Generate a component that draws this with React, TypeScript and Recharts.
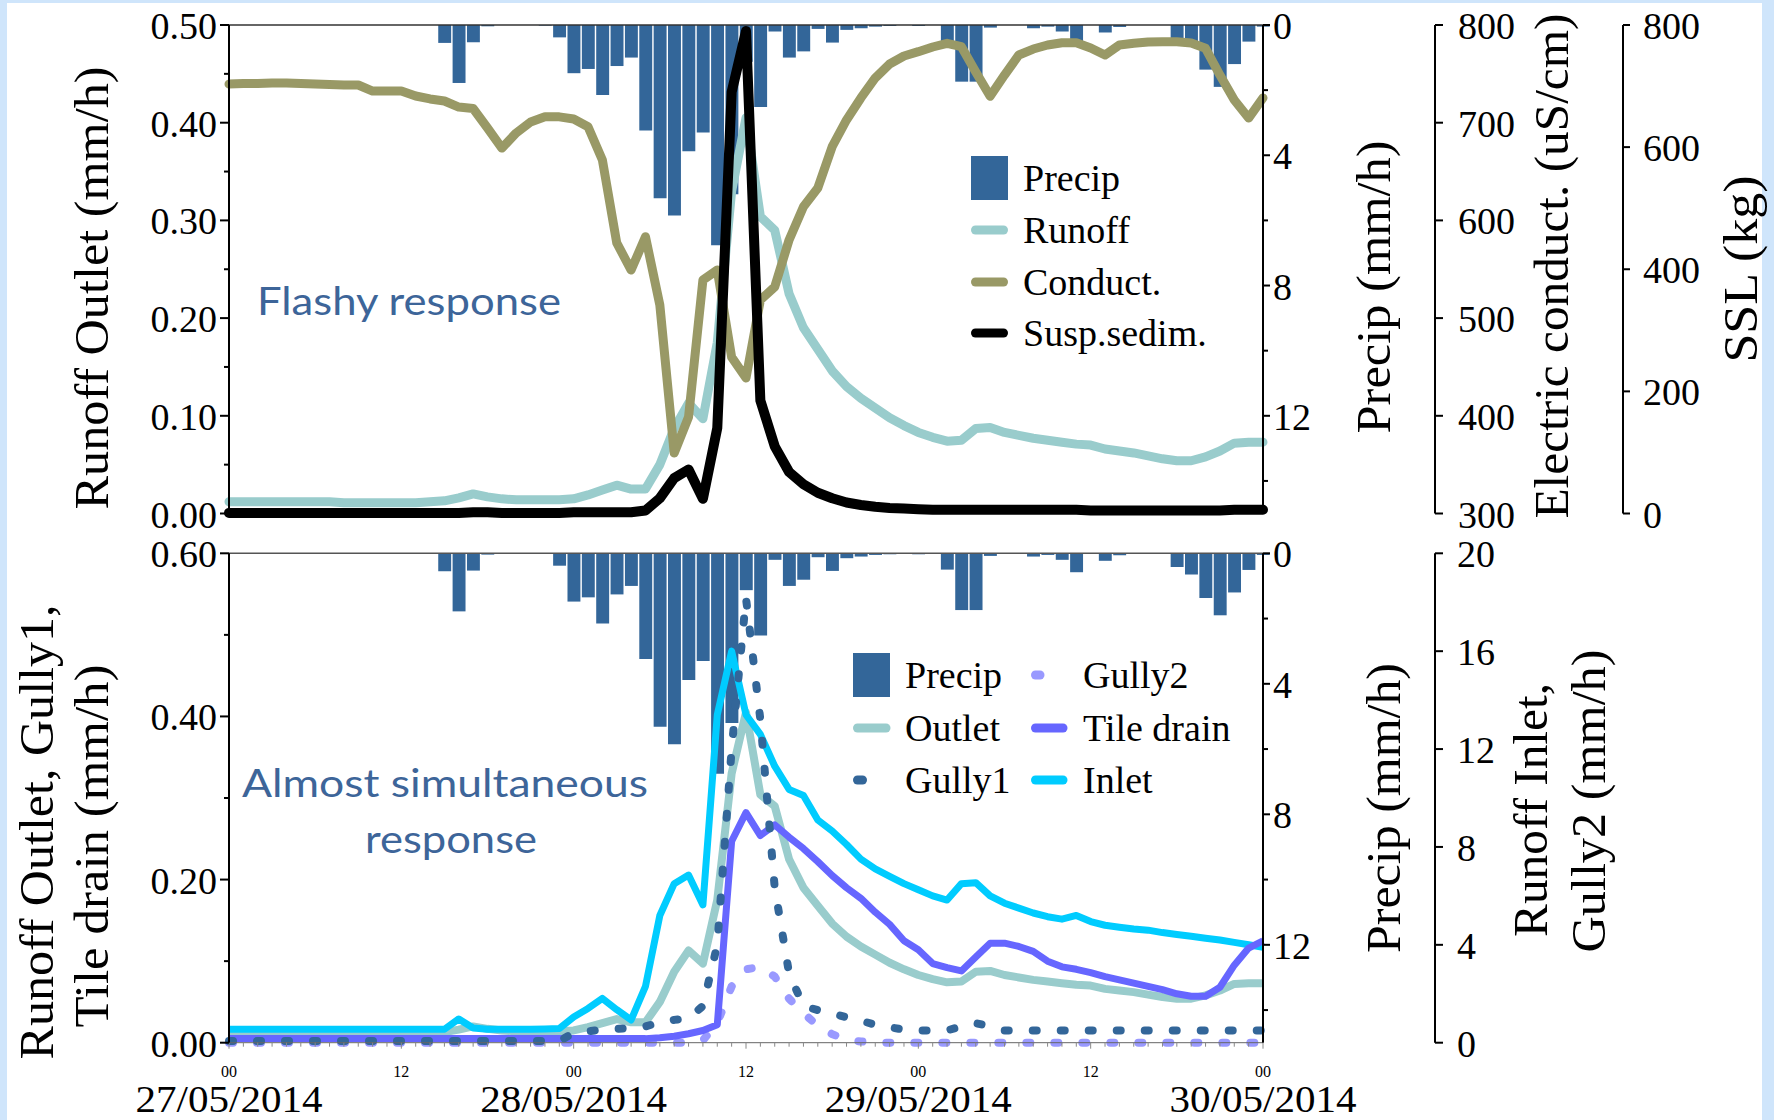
import React from 'react';
import { ComposedChart, Bar, Line, XAxis, YAxis, ReferenceLine, Legend } from 'recharts';

// ---------- data (hourly, 27/05/2014 00:00 -> 30/05/2014 00:00) ----------
const hours = [0,1,2,3,4,5,6,7,8,9,10,11,12,13,14,15,16,17,18,19,20,21,22,23,24,25,26,27,28,29,30,31,32,33,34,35,36,37,38,39,40,41,42,43,44,45,46,47,48,49,50,51,52,53,54,55,56,57,58,59,60,61,62,63,64,65,66,67,68,69,70,71,72];

const precip = [0,0,0,0,0,0,0,0,0,0,0,0,0,0,0,0.55,1.78,0.53,0.04,0,0,0,0.02,0.38,1.48,1.35,2.15,1.26,1.0,3.24,5.32,5.85,3.88,3.3,6.76,5.2,1.13,2.52,0.2,1.0,0.81,0.12,0.54,0.15,0.1,0.05,0.03,0,0.03,0,0.5,1.74,1.74,0.08,0,0,0.1,0.05,0.2,0.58,0,0.23,0.06,0,0,0,0.42,0.65,1.37,1.9,1.2,0.51,0.05];

const runoff = [0.012,0.012,0.012,0.012,0.012,0.012,0.012,0.012,0.011,0.011,0.011,0.011,0.011,0.011,0.012,0.013,0.016,0.02,0.017,0.015,0.014,0.014,0.014,0.014,0.015,0.019,0.024,0.029,0.025,0.025,0.05,0.087,0.113,0.097,0.175,0.33,0.405,0.304,0.29,0.225,0.19,0.168,0.146,0.13,0.118,0.108,0.098,0.09,0.083,0.078,0.074,0.075,0.087,0.088,0.083,0.08,0.077,0.075,0.073,0.071,0.07,0.066,0.064,0.062,0.059,0.056,0.054,0.054,0.058,0.064,0.072,0.073,0.073];

const conduct = [739.6,740,740,740.6,740.6,740,739.6,739,738.6,738.6,732.4,732.4,732.4,727.3,724.3,722.2,716,714.5,694.6,674,689.5,700.7,706,706,703.8,695.9,661.8,576.9,549.2,583.3,513.4,361.9,398.8,539,549.2,460,438.7,518.5,532,580,614,633.2,675.4,702.8,725.3,745.8,760.1,768.3,772.7,777.5,781.3,777.8,751.9,727,748.8,769.3,775.4,779.5,781.9,781.9,776.5,769.3,779.5,781.3,782.6,782.9,782.9,781.6,776.2,748.8,723.2,704.8,725.3];

const ssl = [1,1,1,1,1,1,1,1,1,1,1,1,1,1,1,1,1,2,2,1,1,1,1,1,2,2,2,2,2,5,25,58,72,24,140,690,790,185,110,68,48,34,25,18,14,11,9,8,7,6,6,6,6,6,6,6,6,6,6,6,5,5,5,5,5,5,5,5,5,5,6,6,6];

const inlet = [0.55,0.55,0.55,0.55,0.55,0.55,0.55,0.55,0.55,0.55,0.55,0.55,0.55,0.55,0.55,0.55,0.97,0.6,0.55,0.55,0.55,0.55,0.56,0.58,1.05,1.4,1.81,1.35,0.93,2.3,5.2,6.5,6.85,5.63,13.4,16.0,13.4,12.6,11.3,10.35,10.1,9.1,8.65,8.1,7.5,7.1,6.8,6.5,6.25,6.0,5.83,6.5,6.54,6.0,5.7,5.5,5.3,5.15,5.05,5.2,4.95,4.8,4.72,4.65,4.6,4.5,4.42,4.35,4.27,4.2,4.1,4.0,3.9];

const tile = [0.005,0.005,0.005,0.005,0.005,0.005,0.005,0.005,0.005,0.005,0.005,0.005,0.005,0.005,0.005,0.005,0.005,0.005,0.005,0.005,0.005,0.005,0.005,0.005,0.005,0.005,0.005,0.005,0.005,0.005,0.006,0.008,0.011,0.015,0.022,0.247,0.282,0.254,0.267,0.252,0.238,0.222,0.205,0.19,0.177,0.16,0.145,0.125,0.114,0.097,0.092,0.088,0.105,0.122,0.122,0.118,0.112,0.1,0.093,0.09,0.086,0.081,0.077,0.073,0.069,0.065,0.06,0.057,0.057,0.068,0.095,0.116,0.125];

const gully1 = [0.002,0.002,0.002,0.002,0.002,0.002,0.002,0.002,0.002,0.002,0.002,0.002,0.002,0.002,0.002,0.002,0.002,0.002,0.002,0.002,0.002,0.002,0.002,0.002,0.012,0.014,0.016,0.017,0.018,0.02,0.025,0.028,0.03,0.045,0.12,0.36,0.545,0.396,0.19,0.085,0.045,0.04,0.036,0.031,0.027,0.022,0.019,0.016,0.015,0.015,0.015,0.02,0.024,0.02,0.015,0.015,0.015,0.015,0.015,0.015,0.015,0.015,0.015,0.015,0.015,0.015,0.015,0.015,0.015,0.015,0.015,0.015,0.015];

const gully2 = [0,0,0,0,0,0,0,0,0,0,0,0,0,0,0,0,0,0,0,0,0,0,0,0,0,0,0,0,0,0,0,0,0,0.1,0.8,2.3,3.0,3.1,2.7,1.8,1.2,0.7,0.35,0.12,0.05,0,0,0,0,0,0,0,0,0,0,0,0,0,0,0,0,0,0,0,0,0,0,0,0,0,0,0,0];

const hourLabels = ['00', '12'];
const dateLabels = ['27/05/2014', '28/05/2014', '29/05/2014', '30/05/2014'];

const leftTicksTop = [0, 0.05, 0.1, 0.15, 0.2, 0.25, 0.3, 0.35, 0.4, 0.45, 0.5];
const leftMajorsTop = [0, 0.1, 0.2, 0.3, 0.4, 0.5];
const leftTicksBot = [0, 0.1, 0.2, 0.3, 0.4, 0.5, 0.6];
const leftMajorsBot = [0, 0.2, 0.4, 0.6];
const precipTicks = [0, 2, 4, 6, 8, 10, 12, 14];
const precipMajors = [0, 4, 8, 12];
const condTicks = [300, 400, 500, 600, 700, 800];
const sslTicks = [0, 200, 400, 600, 800];
const inletTicks = [0, 4, 8, 12, 16, 20];

const topData = hours.map((h, i) => ({ h, precip: precip[i], runoff: runoff[i], conduct: conduct[i], ssl: ssl[i] }));
const botData = hours.map((h, i) => ({ h, precip: precip[i], outlet: runoff[i], inlet: inlet[i], tile: tile[i], gully1: gully1[i], gully2: gully2[i] }));

// ---------- styles ----------
const FONT = '"Liberation Serif", "Times New Roman", serif';
const SANS = 'Lato, "Open Sans", sans-serif';
const C = {
  precip: '#336699',
  runoff: '#99cccc',
  conduct: '#999966',
  ssl: '#000000',
  gully1: '#336699',
  gully2: '#9999ff',
  tile: '#6666ff',
  inlet: '#00ccff',
  note: '#3d6599',
};

const isIn = (arr: number[], v: number) => arr.some((m) => Math.abs(m - v) < 1e-9);

function LeftTick(props: any) {
  const { x, y, payload, majors, digits } = props;
  const v = payload.value;
  const major = isIn(majors, v);
  const len = major ? 9 : 5;
  return (
    <g>
      <line x1={x} x2={x - len} y1={y} y2={y} stroke="#000" strokeWidth={2} />
      {major && (
        <text x={x - 12} y={y + 14} textAnchor="end" fontSize={38} fontFamily={FONT} fill="#000">
          {v.toFixed(digits)}
        </text>
      )}
    </g>
  );
}

function RightTick(props: any) {
  const { x, y, payload, majors, gap, len } = props;
  const v = payload.value;
  const major = majors ? isIn(majors, v) : true;
  const l = major ? len : 5;
  return (
    <g>
      <line x1={x} x2={x + l} y1={y} y2={y} stroke="#000" strokeWidth={2} />
      {major && (
        <text x={x + gap} y={y + 14} textAnchor="start" fontSize={38} fontFamily={FONT} fill="#000">
          {String(v)}
        </text>
      )}
    </g>
  );
}

function XTick(props: any) {
  const { x, y, payload } = props;
  const v = payload.value;
  const lab = v % 12 === 0;
  return (
    <g>
      <line x1={x} x2={x} y1={y} y2={y + (lab ? 6 : 4)} stroke="#888" strokeWidth={1} />
      {lab && (
        <text x={x} y={y + 34} textAnchor="middle" fontSize={16} fontFamily={FONT} fill="#000">
          {hourLabels[(v / 12) % 2]}
        </text>
      )}
      {v % 24 === 0 && (
        <text x={x} y={y + 69} textAnchor="middle" fontSize={38} fontFamily={FONT} fill="#000"
          textLength={187} lengthAdjust="spacingAndGlyphs">
          {dateLabels[v / 24]}
        </text>
      )}
    </g>
  );
}

function VTitle(props: any) {
  const { lines } = props;
  return (
    <g>
      {lines.map((l: any, i: number) => (
        <text key={i} transform={`translate(${l.x},${l.y}) rotate(-90)`} textAnchor="middle"
          fontSize={49} fontFamily={FONT} fill="#000" textLength={l.len} lengthAdjust="spacingAndGlyphs">
          {l.text}
        </text>
      ))}
    </g>
  );
}

const txt = (x: number, y: number, s: string) => (
  <text x={x} y={y} fontSize={38} fontFamily={FONT} fill="#000">{s}</text>
);

function TopLegend() {
  const ox = 960, oy = 140;
  return (
    <svg width={320} height={230} style={{ overflow: 'visible' }}>
      <rect x={971 - ox} y={156 - oy} width={37} height={44} fill={C.precip} />
      {txt(1023 - ox, 191 - oy, 'Precip')}
      <line x1={975.5 - ox} x2={1003.5 - ox} y1={230 - oy} y2={230 - oy} stroke={C.runoff} strokeWidth={9} strokeLinecap="round" />
      {txt(1023 - ox, 243 - oy, 'Runoff')}
      <line x1={975.5 - ox} x2={1003.5 - ox} y1={282 - oy} y2={282 - oy} stroke={C.conduct} strokeWidth={9} strokeLinecap="round" />
      {txt(1023 - ox, 295 - oy, 'Conduct.')}
      <line x1={975.5 - ox} x2={1003.5 - ox} y1={333 - oy} y2={333 - oy} stroke={C.ssl} strokeWidth={9} strokeLinecap="round" />
      {txt(1023 - ox, 346 - oy, 'Susp.sedim.')}
    </svg>
  );
}

function BottomLegend() {
  const ox = 845, oy = 640;
  return (
    <svg width={420} height={180} style={{ overflow: 'visible' }}>
      <rect x={853 - ox} y={653 - oy} width={37} height={44} fill={C.precip} />
      {txt(905 - ox, 688 - oy, 'Precip')}
      <line x1={857.5 - ox} x2={886 - ox} y1={728 - oy} y2={728 - oy} stroke={C.runoff} strokeWidth={9} strokeLinecap="round" />
      {txt(905 - ox, 741 - oy, 'Outlet')}
      <line x1={857.5 - ox} x2={862.5 - ox} y1={780 - oy} y2={780 - oy} stroke={C.gully1} strokeWidth={9} strokeLinecap="round" />
      {txt(905 - ox, 793 - oy, 'Gully1')}
      <line x1={1035.5 - ox} x2={1040 - ox} y1={675 - oy} y2={675 - oy} stroke={C.gully2} strokeWidth={9} strokeLinecap="round" />
      {txt(1083 - ox, 688 - oy, 'Gully2')}
      <line x1={1035.5 - ox} x2={1063 - ox} y1={728 - oy} y2={728 - oy} stroke={C.tile} strokeWidth={9} strokeLinecap="round" />
      {txt(1083 - ox, 741 - oy, 'Tile drain')}
      <line x1={1035.5 - ox} x2={1063 - ox} y1={780 - oy} y2={780 - oy} stroke={C.inlet} strokeWidth={9} strokeLinecap="round" />
      {txt(1083 - ox, 793 - oy, 'Inlet')}
    </svg>
  );
}

const BOT = 520;

export default function App() {
  return (
    <div style={{ position: 'absolute', left: 0, top: 0, width: 1774, height: 1120, background: '#cfe5fb', overflow: 'hidden' }}>
      <div style={{ position: 'absolute', left: 7, top: 3, width: 1755, height: 1117, background: '#ffffff' }} />

      {/* ---------- top panel ---------- */}
      <div style={{ position: 'absolute', left: 0, top: 0 }}>
        <ComposedChart width={1774} height={540} data={topData} margin={{ top: 25, right: 0, bottom: 26.5, left: 0 }}>
          <XAxis dataKey="h" type="number" domain={[0, 72]} ticks={[0, 12, 24, 36, 48, 60, 72]} height={0}
            tick={false} tickLine={false} axisLine={{ stroke: '#aaaaaa', strokeWidth: 1 }} />
          <YAxis yAxisId="l" orientation="left" width={229} domain={[0, 0.5]} ticks={leftTicksTop} interval={0}
            tickSize={0} tickMargin={0} tickLine={false} axisLine={{ stroke: '#000', strokeWidth: 2 }}
            tick={<LeftTick majors={leftMajorsTop} digits={2} />}
            label={<VTitle lines={[{ x: 108, y: 288, len: 443, text: 'Runoff Outlet (mm/h)' }]} />} />
          <YAxis yAxisId="r1" orientation="right" width={172} reversed domain={[0, 15]} ticks={precipTicks} interval={0}
            tickSize={0} tickMargin={0} tickLine={false} axisLine={{ stroke: '#000', strokeWidth: 2 }}
            tick={<RightTick majors={precipMajors} gap={10} len={7} />}
            label={<VTitle lines={[{ x: 1390, y: 287, len: 293, text: 'Precip (mm/h)' }]} />} />
          <YAxis yAxisId="r2" orientation="right" width={188} domain={[300, 800]} ticks={condTicks} interval={0}
            tickSize={0} tickMargin={0} tickLine={false} axisLine={{ stroke: '#000', strokeWidth: 2 }}
            tick={<RightTick gap={23} len={8} />}
            label={<VTitle lines={[{ x: 1568, y: 266, len: 505, text: 'Electric conduct. (uS/cm)' }]} />} />
          <YAxis yAxisId="r3" orientation="right" width={151} domain={[0, 800]} ticks={sslTicks} interval={0}
            tickSize={0} tickMargin={0} tickLine={false} axisLine={{ stroke: '#000', strokeWidth: 2 }}
            tick={<RightTick gap={20} len={7} />}
            label={<VTitle lines={[{ x: 1757, y: 269, len: 187, text: 'SSL (kg)' }]} />} />
          <ReferenceLine yAxisId="l" y={0.5} stroke="#333" strokeWidth={1.5} />
          <Bar yAxisId="r1" dataKey="precip" name="Precip" fill={C.precip} barSize={14.4} isAnimationActive={false} />
          <Line yAxisId="l" dataKey="runoff" name="Runoff" type="linear" stroke={C.runoff} strokeWidth={9}
            strokeLinejoin="round" strokeLinecap="round" dot={false} activeDot={false} isAnimationActive={false} />
          <Line yAxisId="r2" dataKey="conduct" name="Conduct." type="linear" stroke={C.conduct} strokeWidth={9}
            strokeLinejoin="round" strokeLinecap="round" dot={false} activeDot={false} isAnimationActive={false} />
          <Line yAxisId="r3" dataKey="ssl" name="Susp.sedim." type="linear" stroke={C.ssl} strokeWidth={10}
            strokeLinejoin="round" strokeLinecap="round" dot={false} activeDot={false} isAnimationActive={false} />
          <Legend layout="horizontal" verticalAlign="middle" align="center" content={<TopLegend />}
            wrapperStyle={{ position: 'absolute', left: 960, top: 140, width: 320, height: 230 }} />
        </ComposedChart>
      </div>

      {/* ---------- bottom panel ---------- */}
      <div style={{ position: 'absolute', left: 0, top: BOT }}>
        <ComposedChart width={1774} height={600} data={botData} margin={{ top: 33.3, right: 0, bottom: 0, left: 0 }}>
          <XAxis dataKey="h" type="number" domain={[0, 72]} ticks={hours} interval={0} height={77.3}
            tickSize={0} tickMargin={0} tickLine={false} axisLine={{ stroke: '#666', strokeWidth: 1 }}
            tick={<XTick />} />
          <YAxis yAxisId="l" orientation="left" width={229} domain={[0, 0.6]} ticks={leftTicksBot} interval={0}
            tickSize={0} tickMargin={0} tickLine={false} axisLine={{ stroke: '#000', strokeWidth: 2 }}
            tick={<LeftTick majors={leftMajorsBot} digits={2} />}
            label={<VTitle lines={[
              { x: 53, y: 832 - BOT, len: 455, text: 'Runoff Outlet, Gully1,' },
              { x: 108, y: 846 - BOT, len: 363, text: 'Tile drain (mm/h)' },
            ]} />} />
          <YAxis yAxisId="r1" orientation="right" width={172} reversed domain={[0, 15]} ticks={precipTicks} interval={0}
            tickSize={0} tickMargin={0} tickLine={false} axisLine={{ stroke: '#000', strokeWidth: 2 }}
            tick={<RightTick majors={precipMajors} gap={10} len={7} />}
            label={<VTitle lines={[{ x: 1400, y: 808 - BOT, len: 290, text: 'Precip (mm/h)' }]} />} />
          <YAxis yAxisId="r2" orientation="right" width={339} domain={[0, 20]} ticks={inletTicks} interval={0}
            tickSize={0} tickMargin={0} tickLine={false} axisLine={{ stroke: '#000', strokeWidth: 2 }}
            tick={<RightTick gap={22} len={8} />}
            label={<VTitle lines={[
              { x: 1547, y: 810 - BOT, len: 254, text: 'Runoff Inlet,' },
              { x: 1605, y: 801 - BOT, len: 303, text: 'Gully2 (mm/h)' },
            ]} />} />
          <ReferenceLine yAxisId="l" y={0.6} stroke="#555" strokeWidth={1.5} />
          <Bar yAxisId="r1" dataKey="precip" name="Precip" fill={C.precip} barSize={14.4} isAnimationActive={false} />
          <Line yAxisId="r2" dataKey="gully2" name="Gully2" type="linear" stroke={C.gully2} strokeWidth={8}
            strokeDasharray="4 24" strokeLinecap="round" dot={false} activeDot={false} isAnimationActive={false} />
          <Line yAxisId="l" dataKey="outlet" name="Outlet" type="linear" stroke={C.runoff} strokeWidth={8}
            strokeLinejoin="round" dot={false} activeDot={false} isAnimationActive={false} />
          <Line yAxisId="r2" dataKey="inlet" name="Inlet" type="linear" stroke={C.inlet} strokeWidth={7}
            strokeLinejoin="round" dot={false} activeDot={false} isAnimationActive={false} />
          <Line yAxisId="l" dataKey="tile" name="Tile drain" type="linear" stroke={C.tile} strokeWidth={7}
            strokeLinejoin="round" dot={false} activeDot={false} isAnimationActive={false} />
          <Line yAxisId="l" dataKey="gully1" name="Gully1" type="linear" stroke={C.gully1} strokeWidth={8}
            strokeDasharray="4 24" strokeLinecap="round" dot={false} activeDot={false} isAnimationActive={false} />
          <Legend layout="horizontal" verticalAlign="middle" align="center" content={<BottomLegend />}
            wrapperStyle={{ position: 'absolute', left: 845, top: 640 - BOT, width: 420, height: 180 }} />
        </ComposedChart>
      </div>

      {/* ---------- annotations ---------- */}
      <svg width={1774} height={1120} style={{ position: 'absolute', left: 0, top: 0, pointerEvents: 'none' }}>
        <text x={257} y={315} fontSize={38} fontFamily={SANS} fill={C.note} textLength={304} lengthAdjust="spacingAndGlyphs">Flashy response</text>
        <text x={242} y={797} fontSize={38} fontFamily={SANS} fill={C.note} textLength={406} lengthAdjust="spacingAndGlyphs">Almost simultaneous</text>
        <text x={365} y={853} fontSize={38} fontFamily={SANS} fill={C.note} textLength={172} lengthAdjust="spacingAndGlyphs">response</text>
      </svg>
    </div>
  );
}
